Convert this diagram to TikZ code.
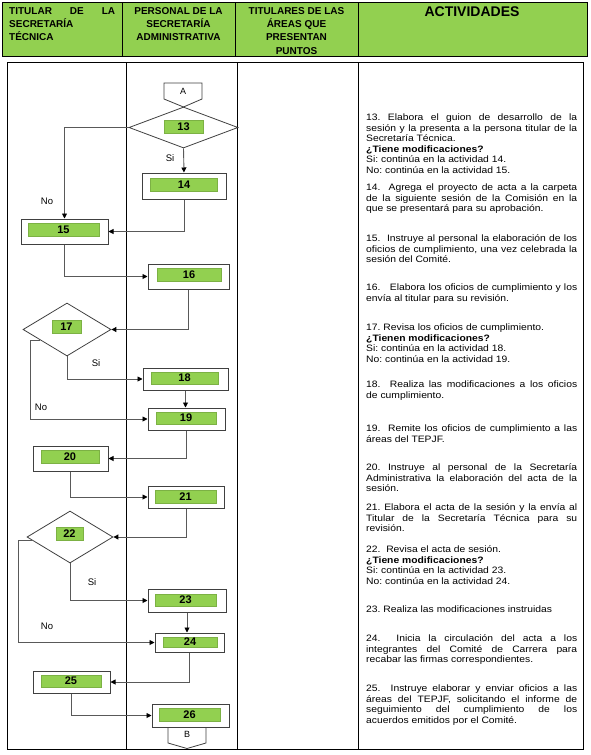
\documentclass[tikz,border=0pt]{standalone}
\usepackage{fontspec}
\setmainfont{Liberation Sans}
\newfontfamily\actfont[FakeStretch=1.11]{Liberation Sans}
\usepackage{xcolor}
\definecolor{headGreen}{HTML}{92D050}
\definecolor{tagGreen}{HTML}{92D050}
\usetikzlibrary{calc, arrows.meta, shapes.geometric}
\frenchspacing

\begin{document}
\begin{tikzpicture}[x=1pt, y=-1pt,
  lane/.style={draw=black, line width=0.8pt},
  headtext/.style={inner sep=0pt, font=\bfseries\fontsize{10}{13.3}\selectfont},
  actbox/.style={draw=black!75, line width=1pt, fill=white, inner sep=0pt},
  numtag/.style={fill=tagGreen, draw=tagGreen!85!black, line width=0.4pt, inner sep=0pt,
    font=\bfseries\fontsize{11}{11}\selectfont},
  decision/.style={diamond, draw=black!75, line width=0.8pt, inner sep=0pt},
  flow/.style={draw=black!65, line width=0.9pt, -{Triangle[length=5pt, width=5pt, color=black]}},
  answer/.style={font=\fontsize{9.5}{9.5}\selectfont},
  activity/.style={anchor=north west, text width=211pt, align=justify, inner sep=0pt,
    font=\actfont\fontsize{9.3}{10.6}\selectfont}]
\useasboundingbox (0,0) rectangle (590,755);
% Header
\fill[headGreen] (2,2) rectangle (587,56);
\draw[lane] (2,2) rectangle (587,56);
\draw[lane] (122,2) -- (122,56) (235,2) -- (235,56) (358,2) -- (358,56);
\node[headtext, anchor=north west, text width=106pt, align=left] (h1) at (9,7)
  {TITULAR\hfill DE\hfill LA\\SECRETARÍA\\TÉCNICA};
\node[headtext, anchor=north, align=center] (h2) at (178.5,7)
  {PERSONAL DE LA\\SECRETARÍA\\ADMINISTRATIVA};
\node[headtext, anchor=north, align=center] (h3) at (296.5,7)
  {TITULARES DE LAS\\ÁREAS QUE\\PRESENTAN\\PUNTOS};
\node[font=\bfseries\fontsize{14}{14}\selectfont] (h4) at (472,12) {ACTIVIDADES};
% Lanes
\draw[lane] (7,62) rectangle (583,749);
\draw[lane] (126,62) -- (126,749) (237,62) -- (237,749) (358,62) -- (358,749);
% Off-page connectors
\draw[actbox, line width=0.8pt] (164,83) -- (202,83) -- (202,99) -- (183.5,107) -- (164,99) -- cycle;
\node[font=\fontsize{9}{9}\selectfont] (ca) at (183,91) {A};
\draw[actbox, line width=0.8pt] (168,727) -- (168,743) -- (187,748.5) -- (206,743) -- (206,727);
\node[font=\fontsize{9}{9}\selectfont] (cb) at (187,734) {B};
% Steps
\node[decision, minimum width=109pt, minimum height=41pt] (n13) at (183.5,127.5) {};
\node[numtag, minimum width=39pt, minimum height=13pt] (t13) at (183.5,126.5) {13};
\node[actbox, minimum width=84pt, minimum height=26pt] (n14) at (184,186) {};
\node[numtag, minimum width=67pt, minimum height=13pt] (t14) at (184,185) {14};
\node[actbox, minimum width=87pt, minimum height=25pt] (n15) at (64.5,231.5) {};
\node[numtag, minimum width=71pt, minimum height=13pt] (t15) at (63.5,229.5) {15};
\node[actbox, minimum width=81pt, minimum height=25pt] (n16) at (188.5,276.5) {};
\node[numtag, minimum width=64pt, minimum height=13pt] (t16) at (189,274.5) {16};
\node[decision, minimum width=88pt, minimum height=53pt] (n17) at (67,329.5) {};
\node[numtag, minimum width=29pt, minimum height=13pt] (t17) at (66.5,326.5) {17};
\node[actbox, minimum width=85pt, minimum height=22pt] (n18) at (185.5,379) {};
\node[numtag, minimum width=67pt, minimum height=12pt] (t18) at (184.5,378) {18};
\node[actbox, minimum width=77pt, minimum height=22pt] (n19) at (186.5,419) {};
\node[numtag, minimum width=60pt, minimum height=12pt] (t19) at (186,418) {19};
\node[actbox, minimum width=75pt, minimum height=25pt] (n20) at (70.5,458.5) {};
\node[numtag, minimum width=58pt, minimum height=13pt] (t20) at (70,456.5) {20};
\node[actbox, minimum width=76pt, minimum height=22pt] (n21) at (186,497) {};
\node[numtag, minimum width=61pt, minimum height=13pt] (t21) at (185.5,496.5) {21};
\node[decision, minimum width=86pt, minimum height=52pt] (n22) at (70,537) {};
\node[numtag, minimum width=27pt, minimum height=13pt] (t22) at (69.5,533.5) {22};
\node[actbox, minimum width=78pt, minimum height=23pt] (n23) at (187,600.5) {};
\node[numtag, minimum width=61pt, minimum height=12pt] (t23) at (185.5,600) {23};
\node[actbox, minimum width=69pt, minimum height=19pt] (n24) at (189.5,642.5) {};
\node[numtag, minimum width=54pt, minimum height=10pt] (t24) at (190,642) {24};
\node[actbox, minimum width=77pt, minimum height=22pt] (n25) at (71.5,682) {};
\node[numtag, minimum width=60pt, minimum height=12pt] (t25) at (71,681) {25};
\node[actbox, minimum width=77pt, minimum height=23pt] (n26) at (190.5,715.5) {};
\node[numtag, minimum width=61pt, minimum height=13pt] (t26) at (189.5,714.5) {26};
% Connectors
\draw[flow] (n13.south) -- (n14.north);
\draw[flow] (n13.west) -| (n15.north);
\draw[flow] (n14.south) |- (n15.east);
\draw[flow] (n15.south) |- (n16.west);
\draw[flow] (n16.south) |- (n17.east);
\draw[flow] (n17.south) |- (n18.west);
\draw[flow] ($(n17.west)!0.39!(n17.south)$) -- ++(-9,0) |- (n19.west);
\draw[flow] (n18.south) -- (n18.south |- n19.north);
\draw[flow] (n19.south) |- (n20.east);
\draw[flow] (n20.south) |- (n21.west);
\draw[flow] (n21.south) |- (n22.east);
\draw[flow] (n22.south) |- (n23.west);
\draw[flow] ($(n22.west)!0.12!(n22.south)$) -- ++(-13,0) |- (n24.west);
\draw[flow] (n23.south) -- (n23.south |- n24.north);
\draw[flow] (n24.south) |- (n25.east);
\draw[flow] (n25.south) |- (n26.west);
% Answers
\node[answer] (si13) at (170,158) {Si};
\node[answer] (no13) at (47,201) {No};
\node[answer] (si17) at (96,363) {Si};
\node[answer] (no17) at (41,407) {No};
\node[answer] (si22) at (92,582) {Si};
\node[answer] (no22) at (47,626) {No};
% Activities
\node[activity] (a13) at (366,113.5) {13. Elabora el guion de desarrollo de la\linebreak
  sesión y la presenta a la persona titular de la\linebreak
  Secretaría Técnica.\\ \textbf{¿Tiene modificaciones?}\\
  Si: continúa en la actividad 14.\\ No: continúa en la actividad 15.};
\node[activity] (a14) at (366,183.5) {14.~ Agrega el proyecto de acta a la carpeta\linebreak
  de la siguiente sesión de la Comisión en la\linebreak
  que se presentará para su aprobación.};
\node[activity] (a15) at (366,234.5) {15.~ Instruye al personal la elaboración de los\linebreak
  oficios de cumplimiento, una vez celebrada la\linebreak
  sesión del Comité.};
\node[activity] (a16) at (366,283.5) {16.~~ Elabora los oficios de cumplimiento y los\linebreak
  envía al titular para su revisión.};
\node[activity] (a17) at (366,323.5) {17. Revisa los oficios de cumplimiento.\\
  \textbf{¿Tienen modificaciones?}\\
  Si: continúa en la actividad 18.\\ No: continúa en la actividad 19.};
\node[activity] (a18) at (366,380.5) {18.~ Realiza las modificaciones a los oficios\linebreak
  de cumplimiento.};
\node[activity] (a19) at (366,424.5) {19.~ Remite los oficios de cumplimiento a las\linebreak
  áreas del TEPJF.};
\node[activity] (a20) at (366,463.5) {20. Instruye al personal de la Secretaría\linebreak
  Administrativa la elaboración del acta de la\linebreak
  sesión.};
\node[activity] (a21) at (366,503.5) {21. Elabora el acta de la sesión y la envía al\linebreak
  Titular de la Secretaría Técnica para su\linebreak
  revisión.};
\node[activity] (a22) at (366,545.5) {22.~ Revisa el acta de sesión.\\
  \textbf{¿Tiene modificaciones?}\\
  Si: continúa en la actividad 23.\\ No: continúa en la actividad 24.};
\node[activity] (a23) at (366,605.5) {23. Realiza las modificaciones instruidas};
\node[activity] (a24) at (366,634.5) {24.~ Inicia la circulación del acta a los\linebreak
  integrantes del Comité de Carrera para\linebreak
  recabar las firmas correspondientes.};
\node[activity] (a25) at (366,684.5) {25.~ Instruye elaborar y enviar oficios a las\linebreak
  áreas del TEPJF, solicitando el informe de\linebreak
  seguimiento del cumplimiento de los\linebreak
  acuerdos emitidos por el Comité.};
\end{tikzpicture}
\end{document}
